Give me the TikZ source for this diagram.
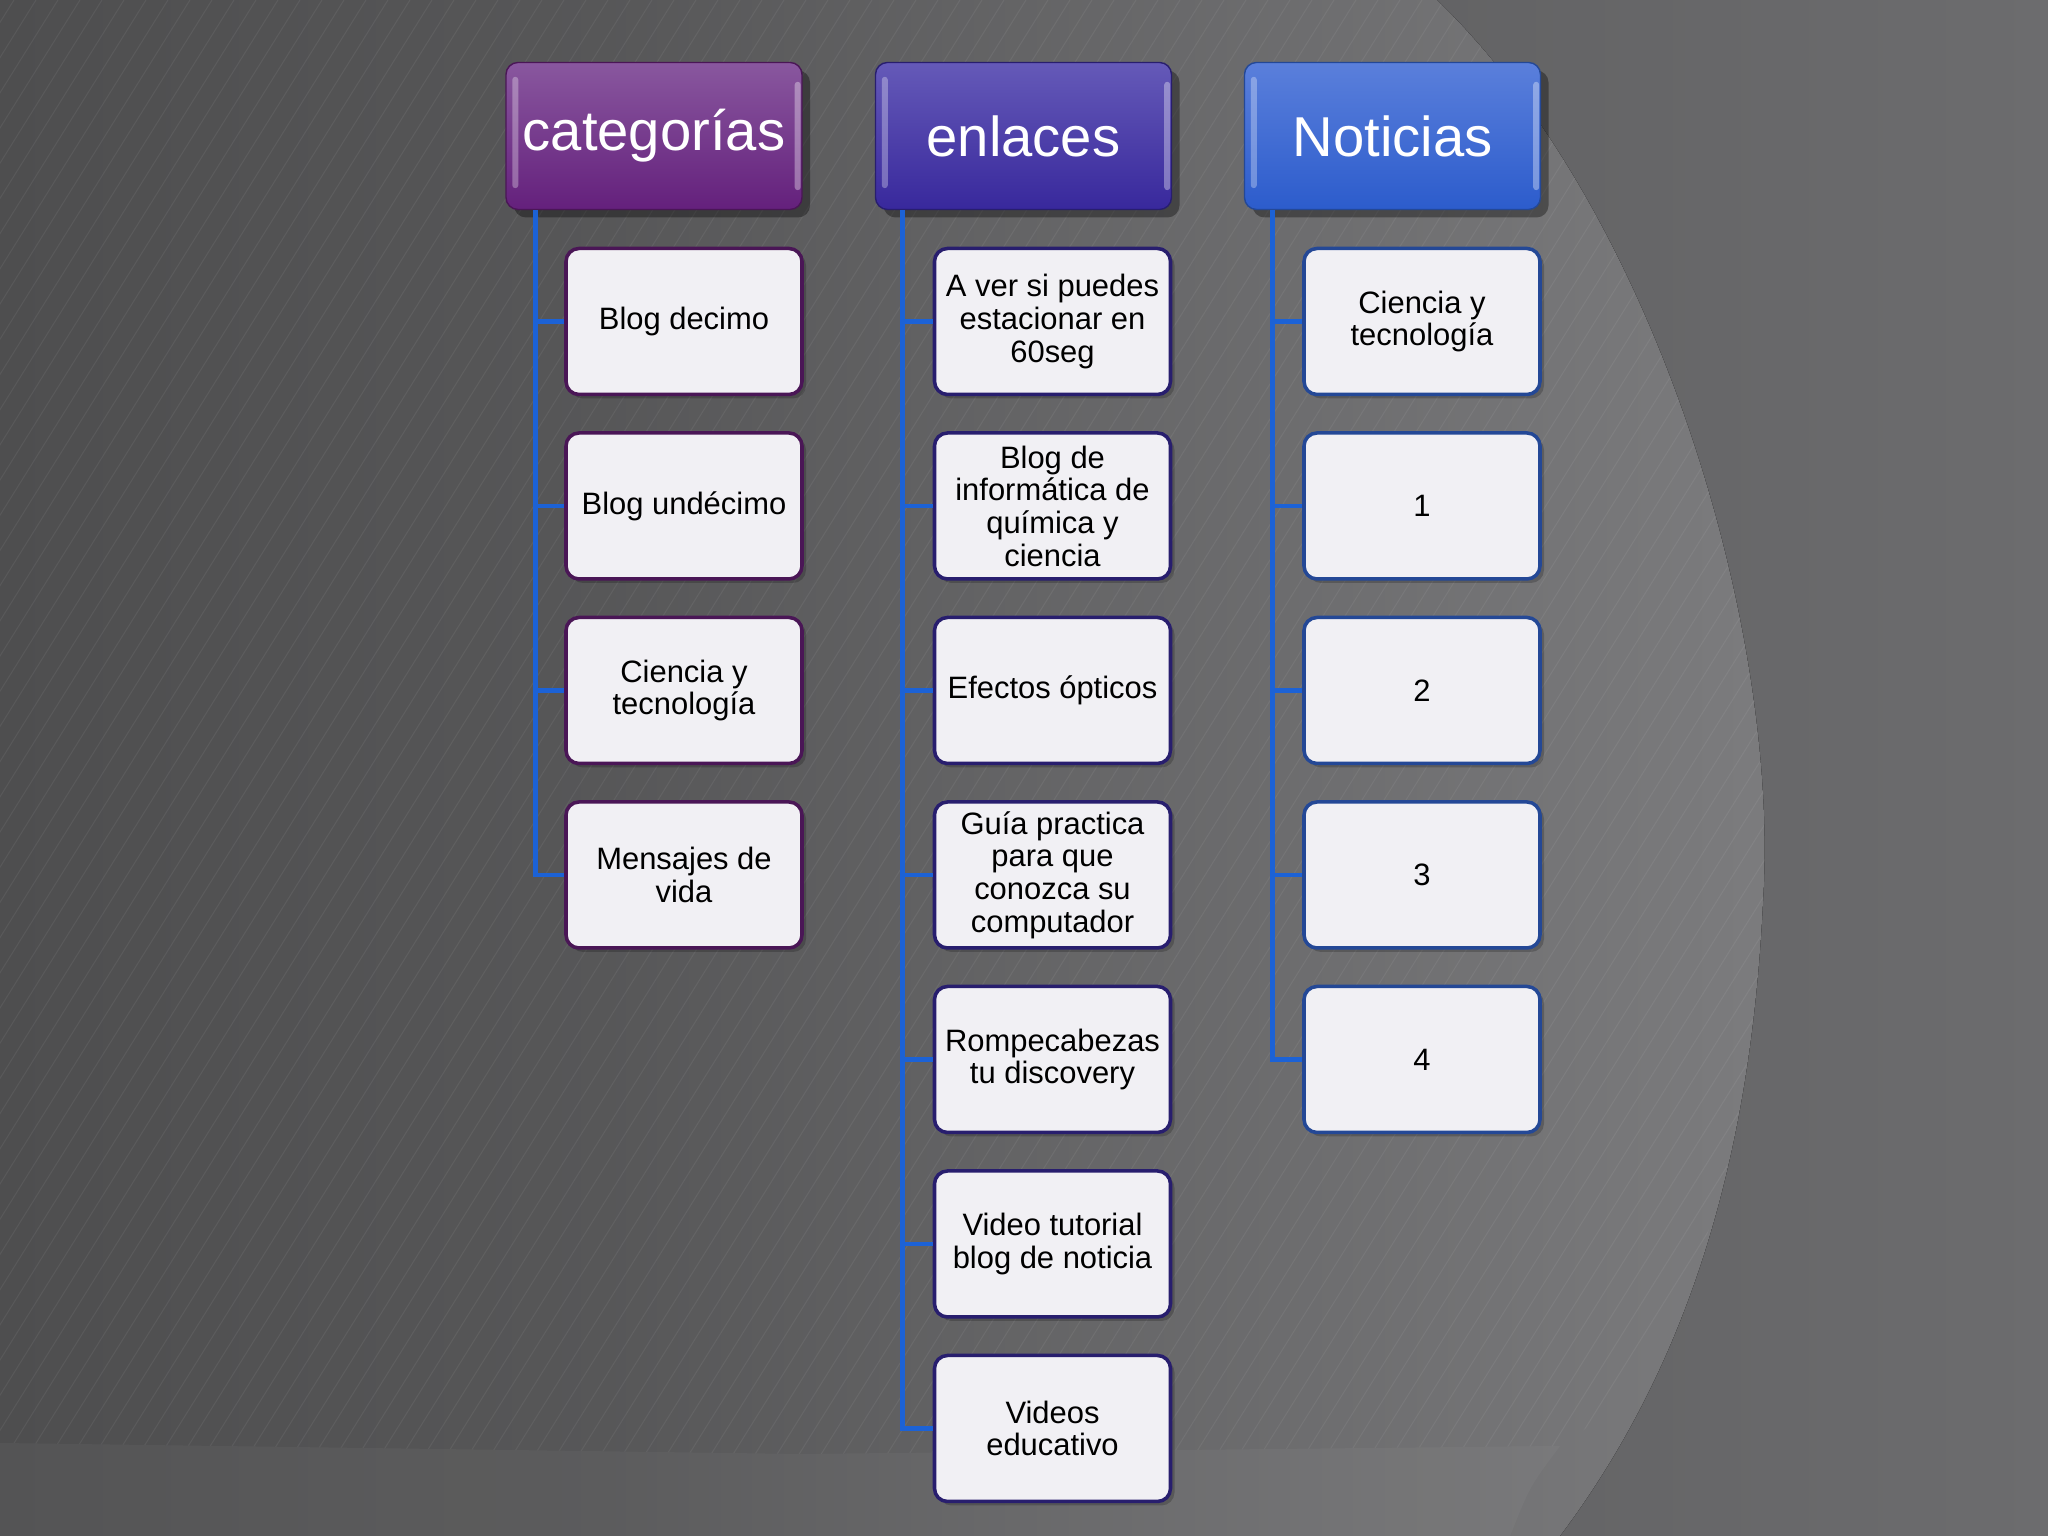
\documentclass[tikz,border=0pt]{standalone}
\usepackage{fontspec}
\setmainfont{Liberation Sans}
\usetikzlibrary{shadows}

\definecolor{fondoA}{RGB}{78,78,79}
\definecolor{fondoB}{RGB}{108,108,110}
\definecolor{claro}{RGB}{124,124,126}
\definecolor{azulrama}{RGB}{28,98,214}
\definecolor{moradoO}{RGB}{100,32,124}
\definecolor{moradoC}{RGB}{192,170,210}
\definecolor{indigoO}{RGB}{56,40,156}
\definecolor{indigoC}{RGB}{168,164,226}
\definecolor{azulO}{RGB}{44,92,204}
\definecolor{azulC}{RGB}{160,180,242}
\definecolor{bordeM}{RGB}{74,22,86}
\definecolor{bordeI}{RGB}{40,30,110}
\definecolor{bordeA}{RGB}{36,72,150}
\definecolor{papel}{RGB}{241,240,244}

% brillo lateral de las cabeceras
\newcommand{\bisel}[1]{%
  \fill[white, opacity=0.3, rounded corners=0.03cm] ([xshift=0.07cm, yshift=0.22cm]#1.south west) rectangle ([xshift=0.13cm, yshift=-0.15cm]#1.north west);
  \fill[white, opacity=0.35, rounded corners=0.03cm] ([xshift=-0.08cm, yshift=0.2cm]#1.south east) rectangle ([xshift=-0.02cm, yshift=-0.2cm]#1.north east);
}

\begin{document}
\begin{tikzpicture}[
	titulo/.style={rounded corners=0.12cm, minimum width=2.96cm, minimum height=1.47cm, inner sep=0pt,
		text=white, font=\fontsize{16}{18}\selectfont,
		drop shadow={opacity=0.35, fill=black, shadow xshift=0.08cm, shadow yshift=-0.08cm}},
	hoja/.style={rounded corners=0.13cm, draw, line width=1pt, fill=papel, minimum width=2.36cm,
		minimum height=1.46cm, inner sep=1pt, align=center, font=\fontsize{8.8}{9.3}\selectfont,
		drop shadow={opacity=0.2, fill=black, shadow xshift=0.04cm, shadow yshift=-0.04cm}},
	rama/.style={draw=azulrama, line width=1.4pt},
]
	% fondo
	\fill[left color=fondoA, right color=fondoB] (0,0) rectangle (20.48,15.36);
	\useasboundingbox (0,0) rectangle (20.48,15.36);
	\fill[left color=fondoB!29!fondoA, right color=claro, shading angle=90] (6,15.36) -- (14.37,15.36) .. controls (16.6,13.2) and (17.8,9.0) .. (17.63,6.35) .. controls (17.5,3.6) and (16.8,1.6) .. (15.6,0) -- (6,0) -- cycle;
	\fill[white, opacity=0.035] (0,0) -- (0,0.93) -- (8,0.82) -- (15.6,0.9) .. controls (15.3,0.5) .. (15.1,0) -- cycle;
	\begin{scope}
		\clip (0,15.36) -- (14.37,15.36) .. controls (16.6,13.2) and (17.8,9.0) .. (17.63,6.35) .. controls (17.5,3.6) and (16.8,1.6) .. (15.6,0.9) -- (8,0.82) -- (0,0.93) -- cycle;
		\foreach \i in {-45,...,95}
			\draw[white, opacity=0.06, line width=0.3pt] (\i*0.22,0) -- ++(9.6,15.36);
	\end{scope}

	% cabeceras
	\node[titulo, top color=moradoO!60!moradoC, middle color=moradoC, bottom color=moradoO, draw=bordeM] (cat) at (6.54,14.0) {categorías};
	\node[titulo, top color=indigoO!60!indigoC, middle color=indigoC, bottom color=indigoO, draw=bordeI] (enl) at (10.235,14.0) {enlaces};
	\node[titulo, top color=azulO!60!azulC, middle color=azulC, bottom color=azulO, draw=bordeA] (not) at (13.925,14.0) {Noticias};
	\bisel{cat}
	\bisel{enl}
	\bisel{not}

	% categorías
	\node[hoja, draw=bordeM] (cat1) at (6.84,12.145) {Blog decimo};
	\node[hoja, draw=bordeM] (cat2) at (6.84,10.30) {Blog undécimo};
	\node[hoja, draw=bordeM] (cat3) at (6.84,8.455) {Ciencia y\\tecnología};
	\node[hoja, draw=bordeM] (cat4) at (6.84,6.61) {Mensajes de\\vida};

	% enlaces
	\node[hoja, draw=bordeI] (enl1) at (10.525,12.145) {A ver si puedes\\estacionar en\\60seg};
	\node[hoja, draw=bordeI] (enl2) at (10.525,10.30) {Blog de\\informática de\\química y\\ciencia};
	\node[hoja, draw=bordeI] (enl3) at (10.525,8.455) {Efectos ópticos};
	\node[hoja, draw=bordeI] (enl4) at (10.525,6.61) {Guía practica\\para que\\conozca su\\computador};
	\node[hoja, draw=bordeI] (enl5) at (10.525,4.765) {Rompecabezas\\tu discovery};
	\node[hoja, draw=bordeI] (enl6) at (10.525,2.92) {Video tutorial\\blog de noticia};
	\node[hoja, draw=bordeI] (enl7) at (10.525,1.075) {Videos\\educativo};

	% noticias
	\node[hoja, draw=bordeA] (not1) at (14.22,12.145) {Ciencia y\\tecnología};
	\node[hoja, draw=bordeA] (not2) at (14.22,10.30) {1};
	\node[hoja, draw=bordeA] (not3) at (14.22,8.455) {2};
	\node[hoja, draw=bordeA] (not4) at (14.22,6.61) {3};
	\node[hoja, draw=bordeA] (not5) at (14.22,4.765) {4};

	% ramas
	\coordinate (catT) at ([xshift=0.30cm]cat.south west);
	\coordinate (enlT) at ([xshift=0.28cm]enl.south west);
	\coordinate (notT) at ([xshift=0.29cm]not.south west);
	\draw[rama] (catT) |- (cat1.west);
	\draw[rama] (catT) |- (cat2.west);
	\draw[rama] (catT) |- (cat3.west);
	\draw[rama] (catT) |- (cat4.west);
	\draw[rama] (enlT) |- (enl1.west);
	\draw[rama] (enlT) |- (enl2.west);
	\draw[rama] (enlT) |- (enl3.west);
	\draw[rama] (enlT) |- (enl4.west);
	\draw[rama] (enlT) |- (enl5.west);
	\draw[rama] (enlT) |- (enl6.west);
	\draw[rama] (enlT) |- (enl7.west);
	\draw[rama] (notT) |- (not1.west);
	\draw[rama] (notT) |- (not2.west);
	\draw[rama] (notT) |- (not3.west);
	\draw[rama] (notT) |- (not4.west);
	\draw[rama] (notT) |- (not5.west);
\end{tikzpicture}
\end{document}
